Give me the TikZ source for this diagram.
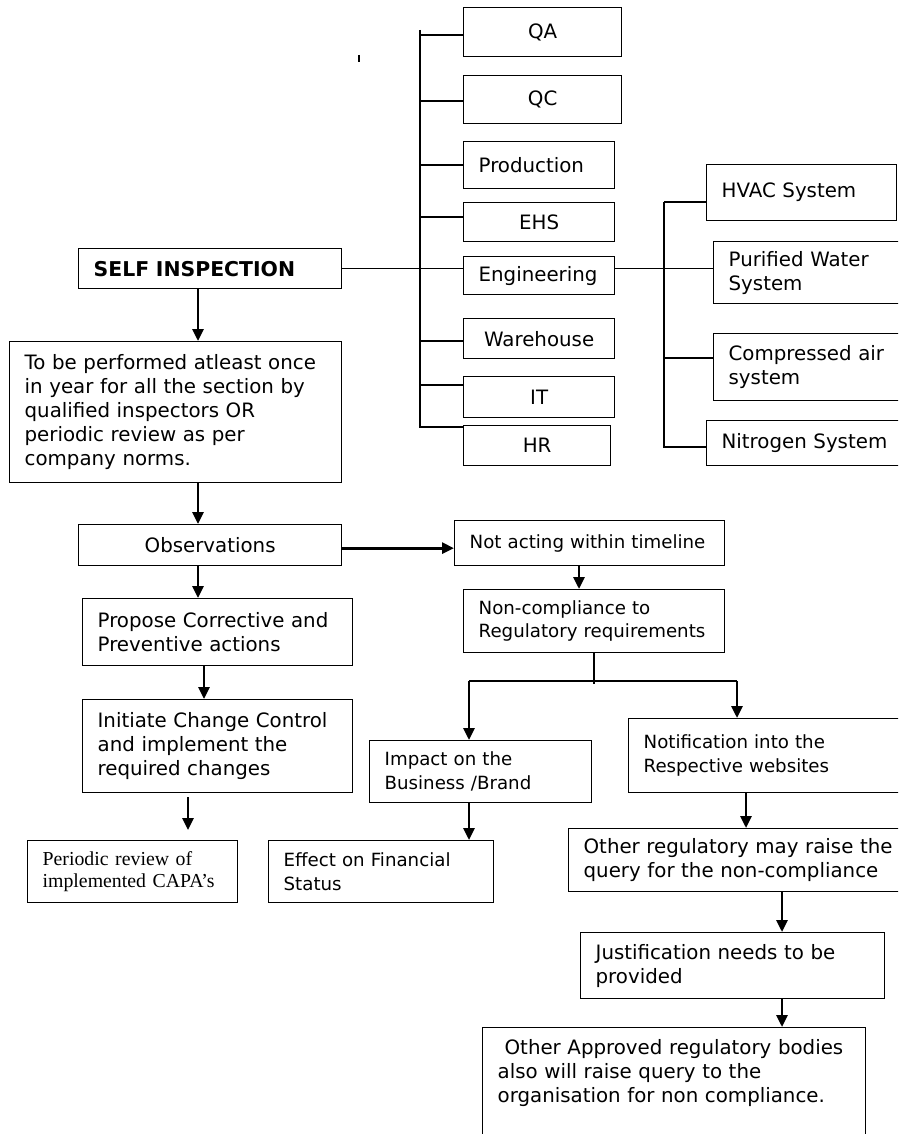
\documentclass[tikz,border=0pt]{standalone}
\usepackage{fontspec}
\setmainfont{DejaVu Sans}
\newfontfamily\timesfont{Liberation Serif}
\usetikzlibrary{arrows.meta}

\tikzset{
  box/.style={draw, line width=1.3pt, anchor=north west, inner xsep=15pt, inner ysep=0pt, align=left},
  cbox/.style={box, align=center},
  smalltext/.style={font=\fontsize{18.2}{23.5}\selectfont},
  link/.style={line width=1.4pt},
  arr/.style={-{Triangle[length=12pt,width=11pt]}, line width=2.8pt}
}

\begin{document}
\begin{tikzpicture}[x=1pt, y=-1pt, font=\fontsize{19.8}{24}\selectfont]
\clip (0,0) rectangle (898,1134);

% main flow
\node[box, text width=233pt, minimum height=40pt, font=\fontsize{20.4}{24}\selectfont\bfseries] (self) at (78,248) {SELF INSPECTION};
\node[box, text width=302pt, minimum height=141pt] (perform) at (9,341) {To be performed atleast once\\ in year for all the section by\\ qualified inspectors OR\\ periodic review as per\\ company norms.};
\node[cbox, text width=233pt, minimum height=41pt] (obs) at (78,524) {Observations};
\node[box, text width=240pt, minimum height=67pt] (propose) at (82,598) {Propose Corrective and\\ Preventive actions};
\node[box, text width=240pt, minimum height=93pt] (initiate) at (82,699) {Initiate Change Control\\ and implement the\\ required changes};
\node[box, text width=180pt, minimum height=62pt, font=\timesfont\fontsize{19.8}{22}\selectfont] (review) at (27,840) {Periodic review of\\ implemented CAPA’s};

\node[box, smalltext, text width=240pt, minimum height=45pt] (notact) at (454,520) {Not acting within timeline};
\node[box, smalltext, text width=231pt, minimum height=63pt] (noncomp) at (463,589) {Non-compliance to\\ Regulatory requirements};
\node[box, smalltext, text width=192pt, minimum height=62pt] (impact) at (369,740) {Impact on the\\ Business /Brand};
\node[box, smalltext, text width=195pt, minimum height=62pt] (effect) at (268,840) {Effect on Financial\\ Status};
\node[box, smalltext, text width=270pt, minimum height=74pt] (notify) at (628,718) {Notification into the\\ Respective websites};
\node[box, text width=330pt, minimum height=63pt] (otherreg) at (568,828) {Other regulatory may raise the\\ query for the non-compliance};
\node[box, text width=274pt, minimum height=66pt] (justify) at (580,932) {Justification needs to be\\ provided};
\node[box, text width=353pt, inner ysep=12pt, text depth=100pt] (approved) at (482,1027) {\hspace*{7pt}Other Approved regulatory bodies\\ also will raise query to the\\ organisation for non compliance.};

% sections
\node[cbox, text width=128pt, minimum height=49pt] (qa) at (463,7) {QA};
\node[cbox, text width=128pt, minimum height=48pt] (qc) at (463,75) {QC};
\node[box, text width=121pt, minimum height=47pt] (prod) at (463,141) {Production};
\node[cbox, text width=121pt, minimum height=39pt] (ehs) at (463,202) {EHS};
\node[box, text width=121pt, minimum height=38pt] (eng) at (463,256) {Engineering};
\node[cbox, text width=121pt, minimum height=40pt] (ware) at (463,318) {Warehouse};
\node[cbox, text width=121pt, minimum height=41pt] (it) at (463,376) {IT};
\node[cbox, text width=117pt, minimum height=40pt] (hr) at (463,425) {HR};

% engineering systems
\node[box, text width=160pt, minimum height=56pt] (hvac) at (706,164) {HVAC System};
\node[box, text width=170pt, minimum height=62pt] (water) at (713,241) {Purified Water\\ System};
\node[box, text width=170pt, minimum height=67pt] (air) at (713,333) {Compressed air\\ system};
\node[box, text width=170pt, minimum height=45pt] (nitro) at (706,420) {Nitrogen System};

\draw[line width=1.5pt] (359,55) -- (359,62);

% tree lines
\coordinate (bus) at (420,30);
\draw[link] (bus) |- ([yshift=-2pt]hr.north west);
\draw[link] (self.east) -- (self.east -| eng.west);
\foreach \n/\y in {qa/35, qc/101, prod/165, ehs/217, ware/341, it/385}
  \draw[link] (bus |- 0,\y) -- (\n.west |- 0,\y);

\coordinate (sub) at (664,202);
\draw[link] (eng.east |- self.east) -- (water.west |- self.east);
\draw[link] (sub) -- (hvac.west |- sub);
\draw[link] (sub) |- (nitro.west |- 0,447);
\draw[link] (sub |- 0,358) -- (air.west |- 0,358);

% arrows
\coordinate (c1) at (198,0);
\coordinate (c2) at (188,830);
\draw[arr] (self.south -| c1) -- (perform.north -| c1);
\draw[arr] (perform.south -| c1) -- (obs.north -| c1);
\draw[arr] (obs.south -| c1) -- (propose.north -| c1);
\draw[arr] (propose.south -| 204,0) -- (initiate.north -| 204,0);
\draw[arr] ([yshift=-4pt]initiate.south -| c2) -- (c2);
\draw[arr] ([yshift=-3pt]obs.east) -- ([yshift=-3pt]obs.east -| notact.west);
\draw[arr] (notact.south -| 579,0) -- (noncomp.north -| 579,0);

\coordinate (sl) at (469,681);
\coordinate (sr) at (737,681);
\draw[link] (noncomp.south) -- ++(0,31);
\draw[link] (sl) -- (sr);
\draw[arr] (sl) -- (sl |- impact.north);
\draw[arr] (sr) -- (sr |- notify.north);
\draw[arr] (impact.south -| sl) -- (effect.north -| sl);
\draw[arr] (notify.south -| 746,0) -- (otherreg.north -| 746,0);
\draw[arr] (otherreg.south -| 782,0) -- (justify.north -| 782,0);
\draw[arr] (justify.south -| 782,0) -- (approved.north -| 782,0);
\end{tikzpicture}
\end{document}
